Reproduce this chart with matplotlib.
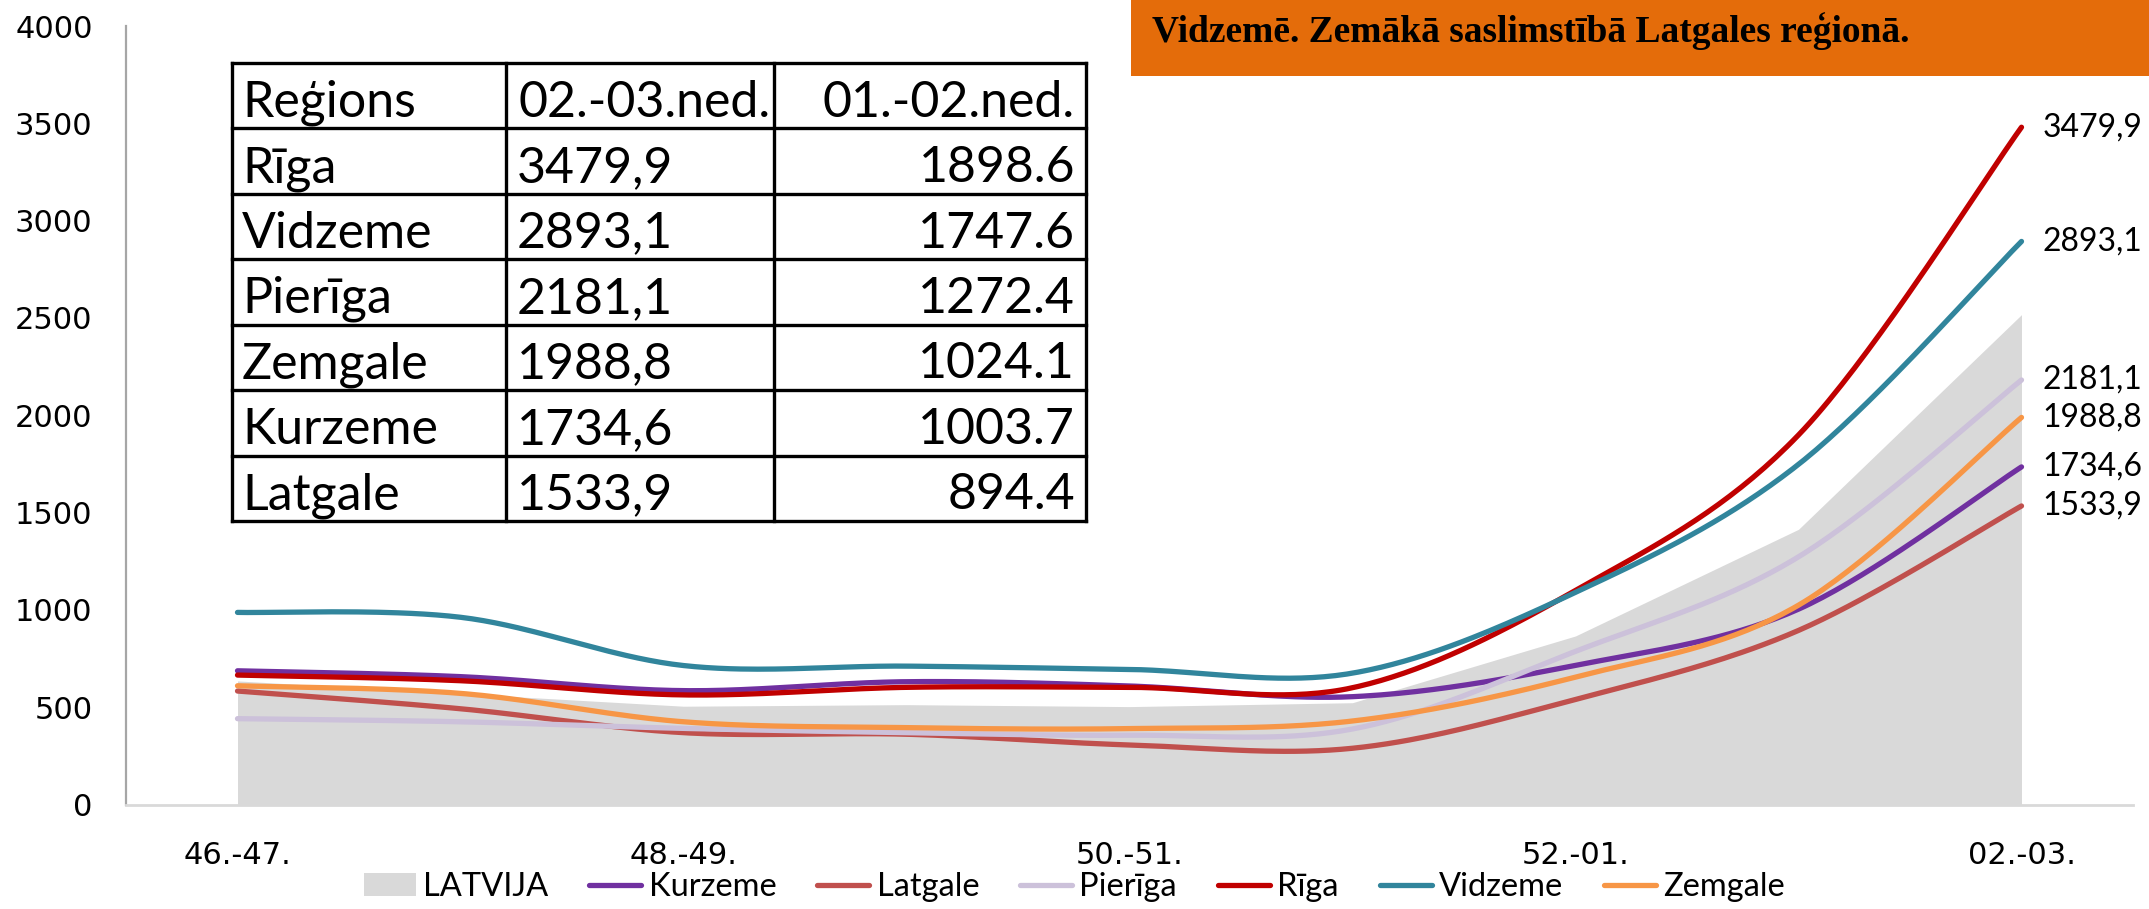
import numpy as np
import matplotlib
matplotlib.use("Agg")
import matplotlib.pyplot as plt
from matplotlib import font_manager as fm
from matplotlib.patches import Patch, Rectangle
from matplotlib.lines import Line2D

# ---------------- data ----------------
categories = ["46.-47.", "47.-48.", "48.-49.", "49.-50.", "50.-51.",
              "51.-52.", "52.-01.", "01.-02.", "02.-03."]
tick_labels = ["46.-47.", "48.-49.", "50.-51.", "52.-01.", "02.-03."]
yticks = [0, 500, 1000, 1500, 2000, 2500, 3000, 3500, 4000]

latvija = [635, 570, 505, 513, 503, 523, 866, 1414, 2517]
kurzeme = [687, 657, 585, 631, 609, 554, 715, 1003.7, 1734.6]
latgale = [583, 492, 369, 361, 306, 289, 540, 894.4, 1533.9]
pieriga = [441, 425, 391, 369, 356, 388, 787, 1272.4, 2181.1]
riga    = [665, 636, 563, 602, 602, 600, 1100, 1898.6, 3479.9]
vidzeme = [987, 962, 714, 711, 694, 675, 1090, 1747.6, 2893.1]
zemgale = [610, 571, 425, 395, 390, 429, 655, 1024.1, 1988.8]

series_names = ["Kurzeme", "Latgale", "Pierīga", "Rīga", "Vidzeme", "Zemgale"]
series_vals = [kurzeme, latgale, pieriga, riga, vidzeme, zemgale]
series_colors = ["#7030A0", "#C0504D", "#CCC1DA", "#C00000", "#31859C", "#F79646"]

table_header = "Reģions"
headline = "Vidzemē. Zemākā saslimstībā Latgales reģionā."

# ---------------- fonts ----------------
def find_font(fragments, exclude=("Bold", "Oblique", "Italic")):
    for f in fm.fontManager.ttflist:
        base = f.fname.split("/")[-1]
        if all(fr in base for fr in fragments) and not any(e in base for e in exclude):
            return f.fname
    return None

fp_tick = fm.FontProperties(family="DejaVu Sans", size=22)

narrow_path = find_font(["LiberationSansNarrow"])
if narrow_path:
    fp_table = fm.FontProperties(fname=narrow_path, size=41)
else:
    fp_table = fm.FontProperties(family="Lato", size=36)

fp_label = fm.FontProperties(family="Lato", size=23)
fp_legend = fm.FontProperties(family="Lato", size=23.5)
fp_head = fm.FontProperties(family="Liberation Serif", weight="bold", size=27)

# ---------------- smoothing (Excel-like Catmull-Rom bezier) ----------------
def smooth(y, n=40):
    x = np.arange(len(y), dtype=float)
    P = np.column_stack([x, np.asarray(y, dtype=float)])
    E = np.vstack([P[0], P, P[-1]])
    t = np.linspace(0, 1, n)[:, None]
    out = []
    for i in range(len(P) - 1):
        p0, p1 = P[i], P[i + 1]
        c1 = p0 + (E[i + 2] - E[i]) / 6.0
        c2 = p1 - (E[i + 3] - E[i + 1]) / 6.0
        b = ((1 - t) ** 3) * p0 + 3 * ((1 - t) ** 2) * t * c1 + 3 * (1 - t) * t ** 2 * c2 + t ** 3 * p1
        out.append(b if i == 0 else b[1:])
    B = np.vstack(out)
    return B[:, 0], B[:, 1]

# ---------------- figure ----------------
W, H = 2149, 909
fig = plt.figure(figsize=(W / 100, H / 100), dpi=100)
fig.patch.set_facecolor("white")

ax = fig.add_axes([126 / W, 1 - 804.5 / H, (2133 - 126) / W, (804.5 - 26) / H])
x = np.arange(len(categories))

ax.fill_between(x, 0, latvija, color="#D9D9D9", linewidth=0, zorder=1)
for name, vals, col in zip(series_names, series_vals, series_colors):
    sx, sy = smooth(vals)
    ax.plot(sx, sy, color=col, lw=3.8, solid_capstyle="round", solid_joinstyle="round", zorder=3)
    ax.annotate(f"{vals[-1]:.1f}".replace(".", ","), xy=(x[-1], vals[-1]),
                xytext=(15, 0), textcoords="offset points", va="center", ha="left",
                fontproperties=fp_label, color="black", annotation_clip=False)

ax.set_xlim(-0.5, len(categories) - 0.5)
ax.set_ylim(0, 4000)
ax.set_yticks(yticks)
ax.set_yticklabels([str(v) for v in yticks])
ax.set_xticks([categories.index(c) for c in tick_labels])
ax.set_xticklabels(tick_labels)
for lab in ax.get_yticklabels() + ax.get_xticklabels():
    lab.set_fontproperties(fp_tick)
ax.tick_params(axis="y", length=0, pad=24)
ax.tick_params(axis="x", length=0, pad=26)
for s in ["top", "right"]:
    ax.spines[s].set_visible(False)
ax.spines["left"].set_color("#A6A6A6")
ax.spines["left"].set_linewidth(1.6)
ax.spines["bottom"].set_color("#D9D9D9")
ax.spines["bottom"].set_linewidth(2.0)
ax.set_facecolor("none")

# legend
handles = [Patch(facecolor="#D9D9D9", edgecolor="none", label="LATVIJA")]
for name, col in zip(series_names, series_colors):
    handles.append(Line2D([0], [0], color=col, lw=3.8, solid_capstyle="round", label=name))
fig.legend(handles=handles, loc="center", bbox_to_anchor=(0.50, 0.024), ncol=7,
           frameon=False, prop=fp_legend, handlelength=1.6, handletextpad=0.22,
           columnspacing=1.25, borderaxespad=0)

# ---------------- overlay: table + headline box (pixel coordinates) ----------------
ov = fig.add_axes([0, 0, 1, 1], zorder=5)
ov.set_xlim(0, W)
ov.set_ylim(H, 0)
ov.axis("off")
ov.patch.set_alpha(0)

# headline box
ov.add_patch(Rectangle((1131, -5), W - 1131 + 5, 81, facecolor="#E46C0A", edgecolor="none"))
ov.text(1152, 42, headline, fontproperties=fp_head, color="black", va="baseline", ha="left")

# table
col_edges = [232, 506, 774, 1086]
row_edges = np.linspace(63, 521, 8)
ov.add_patch(Rectangle((col_edges[0], row_edges[0]), col_edges[-1] - col_edges[0],
                       row_edges[-1] - row_edges[0], facecolor="white", edgecolor="none"))
lw_t = 2.4
for cx in col_edges:
    ov.plot([cx, cx], [row_edges[0], row_edges[-1]], color="black", lw=lw_t, solid_capstyle="projecting")
for ry in row_edges:
    ov.plot([col_edges[0], col_edges[-1]], [ry, ry], color="black", lw=lw_t, solid_capstyle="projecting")

order = sorted(range(len(series_names)), key=lambda i: -series_vals[i][-1])
rows = [(table_header, categories[-1] + "ned.", categories[-2] + "ned.")]
for i in order:
    rows.append((series_names[i],
                 f"{series_vals[i][-1]:.1f}".replace(".", ","),
                 f"{series_vals[i][-2]:.1f}"))
rh = row_edges[1] - row_edges[0]
for r, (a, b, c) in enumerate(rows):
    yb = row_edges[r] + 0.82 * rh
    ov.text(col_edges[0] + 10, yb, a, fontproperties=fp_table, va="baseline", ha="left")
    ov.text(col_edges[1] + (13 if r == 0 else 11), yb, b, fontproperties=fp_table, va="baseline", ha="left")
    ov.text(col_edges[3] - 11, yb, c, fontproperties=fp_table, va="baseline", ha="right")

fig.savefig("out.png", dpi=100, facecolor="white")
